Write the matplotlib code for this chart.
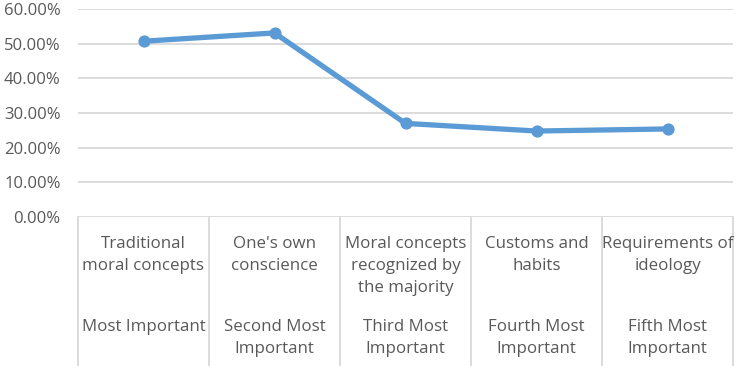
import matplotlib
matplotlib.use("Agg")
import matplotlib.pyplot as plt
from matplotlib.transforms import blended_transform_factory
from matplotlib.ticker import FuncFormatter

categories = ["Traditional\nmoral concepts", "One's own\nconscience",
              "Moral concepts\nrecognized by\nthe majority", "Customs and\nhabits",
              "Requirements of\nideology"]
groups = ["Most Important", "Second Most\nImportant", "Third Most\nImportant",
          "Fourth Most\nImportant", "Fifth Most\nImportant"]
values = [0.507, 0.531, 0.270, 0.248, 0.254]
yticks = [0.0, 0.1, 0.2, 0.3, 0.4, 0.5, 0.6]

plt.rcParams['font.family'] = ['Open Sans', 'DejaVu Sans']
W, H = 738, 366
fig = plt.figure(figsize=(W/100, H/100), dpi=100)
ax = fig.add_axes([78/W, (H-217)/H, (733-78)/W, (217-9)/H])

x = list(range(len(values)))
ax.plot(x, values, color="#5B9BD5", lw=3.8, marker="o", ms=7.8, solid_capstyle="round")
ax.set_xlim(-0.5, len(values)-0.5)
ax.set_ylim(0, 0.6)
ax.set_yticks(yticks)
ax.yaxis.set_major_formatter(FuncFormatter(lambda v, p: f"{v*100:.2f}%"))
ax.tick_params(axis='y', length=0, pad=12.5, labelsize=12, labelcolor="#595959")
ax.set_xticks([])
for s in ax.spines.values():
    s.set_visible(False)
for t in yticks:
    ax.axhline(t, color="#D9D9D9", lw=1.3, zorder=0)

tr = blended_transform_factory(ax.transData, fig.transFigure)
for i in range(len(values)+1):
    ax.plot([i-0.5, i-0.5], [(H-217)/H, 0], color="#D9D9D9", lw=1.3,
            transform=tr, clip_on=False)
for i, (c, g) in enumerate(zip(categories, groups)):
    ax.text(i, (H-236)/H, c, transform=tr, ha="center", va="top", fontsize=12.2,
            color="#595959", linespacing=1.52)
    ax.text(i, (H-319)/H, g, transform=tr, ha="center", va="top", fontsize=12.2,
            color="#595959", linespacing=1.52)

fig.savefig("out.png", dpi=100)
